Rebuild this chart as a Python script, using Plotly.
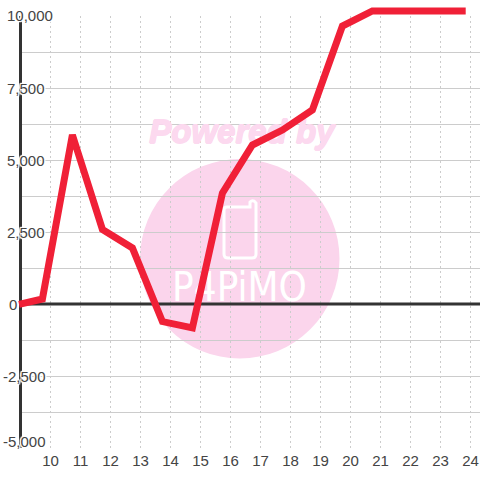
import plotly.graph_objects as go

hours = [8.95, 9.73, 10.73, 11.73, 12.73, 13.73, 14.73, 15.73, 16.73, 17.73, 18.73, 19.73, 20.73, 23.84]
values = [-10, 174, 5870, 2590, 1945, -610, -830, 3850, 5520, 6040, 6740, 9650, 10175, 10175]
x_ticks = list(range(10, 25))
y_grid = [-5000, -3750, -2500, -1250, 0, 1250, 2500, 3750, 5000, 6250, 7500, 8750, 10000]
y_labels = [10000, 7500, 5000, 2500, 0, -2500, -5000]
label_left = [5, 5, 5, 5, 7, 1, 1]
label_lift = [0, 0, 0, 0, 0, 0, 7]

FONT = "Liberation Sans"
TXT = "#444444"
GRID = "#cccccc"
DARK = "#333333"
RED = "#f02037"
PINK = "#fbd5ec"
HALO = ",".join(f"{a}px {b}px 1px #fff" for a in (-1, 0, 1) for b in (-1, 0, 1))
FAT = "0.7px 0 0 #fcd9ef,-0.7px 0 0 #fcd9ef,0 0.7px 0 #fcd9ef,0 -0.7px 0 #fcd9ef"

AXIS_L, BOTTOM, AXIS_T = 22, 32, 16
H = 480 - BOTTOM
px = lambda v: v / 480
py = lambda v: (H - v) / H

X_LEFT = 10 - 50.5 / 30
X_RIGHT = X_LEFT + 480 / 30
Y_TOP = 10000 + AXIS_T * 2500 / 72

fig = go.Figure()
fig.add_trace(go.Scatter(x=[16.38], y=[5870], mode="text", text=["Powered by"], textposition="middle center",
                         textfont=dict(family=FONT, size=33, color="#fcd9ef", weight="bold", style="italic", shadow=FAT),
                         hoverinfo="skip", showlegend=False))
fig.add_trace(go.Scatter(x=[16.3], y=[450], mode="text", text=["P4PiMO"], textposition="middle center",
                         textfont=dict(family="DejaVu Sans Condensed", size=40, color="#ffffff"),
                         hoverinfo="skip", showlegend=False))
fig.add_trace(go.Scatter(x=[X_LEFT, X_RIGHT], y=[0, 0], mode="lines", line=dict(color=DARK, width=3),
                         hoverinfo="skip", showlegend=False))
fig.add_trace(go.Scatter(x=hours, y=values, mode="lines", line=dict(color=RED, width=7),
                         xaxis="x2", yaxis="y2", hoverinfo="skip", showlegend=False))

phone = (f"M {px(227)} {py(207)} L {px(250)} {py(207)} L {px(250)} {py(202)} Q {px(252)} {py(200)} {px(254)} {py(201)} "
         f"L {px(256)} {py(203)} L {px(256)} {py(254)} Q {px(256)} {py(258)} {px(252)} {py(258)} L {px(228)} {py(258)} "
         f"Q {px(224)} {py(258)} {px(224)} {py(254)} L {px(224)} {py(210)} Q {px(224)} {py(207)} {px(227)} {py(207)} Z")

fig.update_layout(
    width=480, height=480, autosize=False,
    margin=dict(l=0, r=0, t=0, b=BOTTOM, pad=0),
    paper_bgcolor="#ffffff", plot_bgcolor="rgba(0,0,0,0)",
    font=dict(family=FONT, size=15, color=TXT),
    shapes=[
        dict(type="circle", xref="paper", yref="paper", x0=px(140), x1=px(339.5), y0=py(358.5), y1=py(159),
             fillcolor=PINK, line_width=0, layer="below"),
        dict(type="path", xref="paper", yref="paper", path=phone, line=dict(color="#ffffff", width=3), layer="below"),
    ],
    annotations=[
        dict(xref="paper", yref="y", x=0, y=v, xanchor="left", yanchor="middle", showarrow=False,
             xshift=s, yshift=u, text=f"{v:,}",
             font=dict(family=FONT, size=15, color=TXT, shadow=HALO))
        for v, s, u in zip(y_labels, label_left, label_lift)
    ],
    xaxis=dict(domain=[AXIS_L / 480, 1], range=[10 + (AXIS_L - 50.5) / 30, X_RIGHT], anchor="y",
               tickmode="array", tickvals=x_ticks, ticktext=[str(t) for t in x_ticks],
               showgrid=True, gridcolor=GRID, gridwidth=1, griddash="2px,3px", zeroline=False, showline=False,
               ticks="", ticklabelstandoff=2, tickfont=dict(family=FONT, size=15, color=TXT)),
    yaxis=dict(domain=[0, (H - AXIS_T) / H], range=[-5000, 10000], anchor="x",
               tickmode="array", tickvals=y_grid, showticklabels=False,
               showgrid=True, gridcolor=GRID, gridwidth=1, zeroline=False,
               showline=True, linecolor=DARK, linewidth=3, ticks=""),
    xaxis2=dict(domain=[0, 1], range=[X_LEFT, X_RIGHT], anchor="y2", visible=False),
    yaxis2=dict(domain=[0, 1], range=[-5000, Y_TOP], anchor="x2", visible=False),
)
fig.write_html("out.html", config={"displayModeBar": False},
               post_script="document.body.style.margin='0';document.documentElement.style.overflow='hidden';")
